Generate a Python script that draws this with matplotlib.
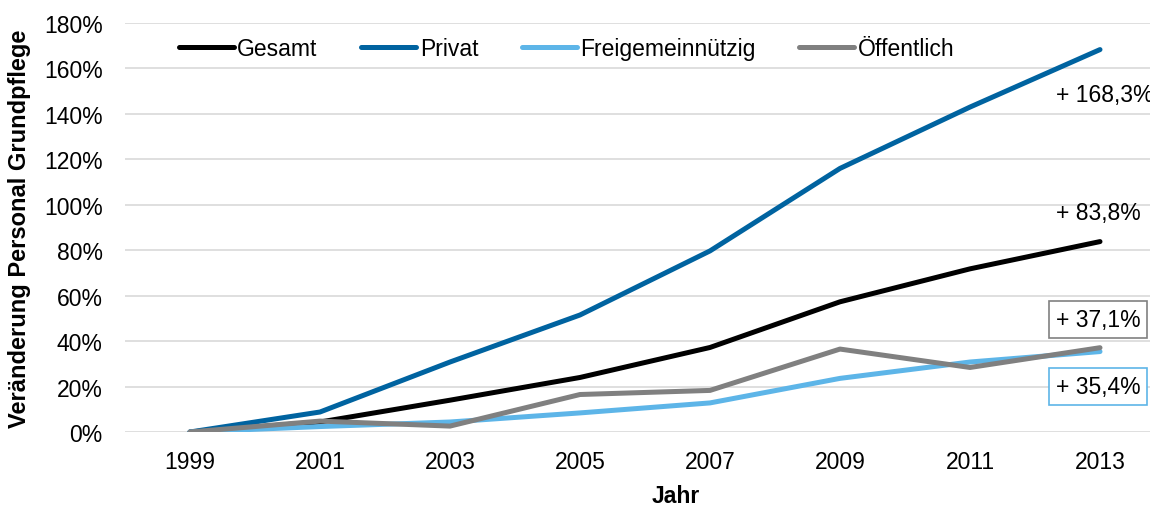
import matplotlib.pyplot as plt
from matplotlib.ticker import FuncFormatter

plt.rcParams['font.family'] = ['Liberation Sans', 'DejaVu Sans']

years = ['1999', '2001', '2003', '2005', '2007', '2009', '2011', '2013']
gesamt = [0, 4.4, 14.0, 24.0, 37.2, 57.3, 71.8, 83.8]
privat = [0, 8.8, 30.8, 51.5, 79.7, 116.0, 143.0, 168.3]
freigemein = [0, 2.4, 4.4, 8.4, 12.8, 23.6, 30.8, 35.4]
oeffentlich = [0, 4.8, 2.6, 16.5, 18.3, 36.5, 28.4, 37.1]

end_labels = ['+ 168,3%', '+ 83,8%', '+ 37,1%', '+ 35,4%']
label_y = [148.5, 96.5, 49.5, 20.0]

c_gesamt = '#000000'
c_privat = '#0063a0'
c_frei = '#5db5e8'
c_oeff = '#808080'

fs = 16.5

fig = plt.figure(figsize=(11.5, 5.06), dpi=100)
ax = fig.add_axes([125 / 1150, 73 / 506, 1040 / 1150, 409 / 506])

x = list(range(len(years)))
lw = 3.6
ax.plot(x, gesamt, color=c_gesamt, lw=lw, label='Gesamt', solid_capstyle='round', zorder=3)
ax.plot(x, privat, color=c_privat, lw=lw, label='Privat', solid_capstyle='round', zorder=3)
ax.plot(x, freigemein, color=c_frei, lw=lw, label='Freigemeinnützig', solid_capstyle='round', zorder=3)
ax.plot(x, oeffentlich, color=c_oeff, lw=lw, label='Öffentlich', solid_capstyle='round', zorder=4)

ax.set_xlim(-0.5, 7.5)
ax.set_ylim(0, 180)
ax.set_yticks(range(0, 181, 20))
ax.yaxis.set_major_formatter(FuncFormatter(lambda v, p: '%d%%' % v))
ax.set_xticks(x)
ax.set_xticklabels(years)
ax.tick_params(axis='both', length=0, labelsize=fs)
ax.tick_params(axis='x', pad=13)
ax.tick_params(axis='y', pad=16)
for s in ax.spines.values():
    s.set_visible(False)
ax.grid(axis='y', color='#d9d9d9', lw=1.2)
ax.set_axisbelow(True)

ax.set_ylabel('Veränderung Personal Grundpflege', fontsize=17, fontweight='bold')
ax.yaxis.set_label_coords(-94 / 1040, 0.5)
ax.set_xlabel('Jahr', fontsize=fs, fontweight='bold')
ax.xaxis.set_label_coords(551 / 1040, -52 / 409)

leg = ax.legend(loc='upper left', bbox_to_anchor=(0.032, 1.015), ncol=4, frameon=False,
                fontsize=fs, handlelength=2.4, handletextpad=0.15, columnspacing=1.9)

# end labels
boxes = [None, None, dict(boxstyle='square,pad=0.3', fc='white', ec=c_oeff, lw=1.2),
         dict(boxstyle='square,pad=0.3', fc='white', ec=c_frei, lw=1.2)]
for t, yv, b in zip(end_labels, label_y, boxes):
    ax.text(6.66, yv, t, fontsize=fs, ha='left', va='center', bbox=b, zorder=5)

fig.savefig('out.png', dpi=100)
